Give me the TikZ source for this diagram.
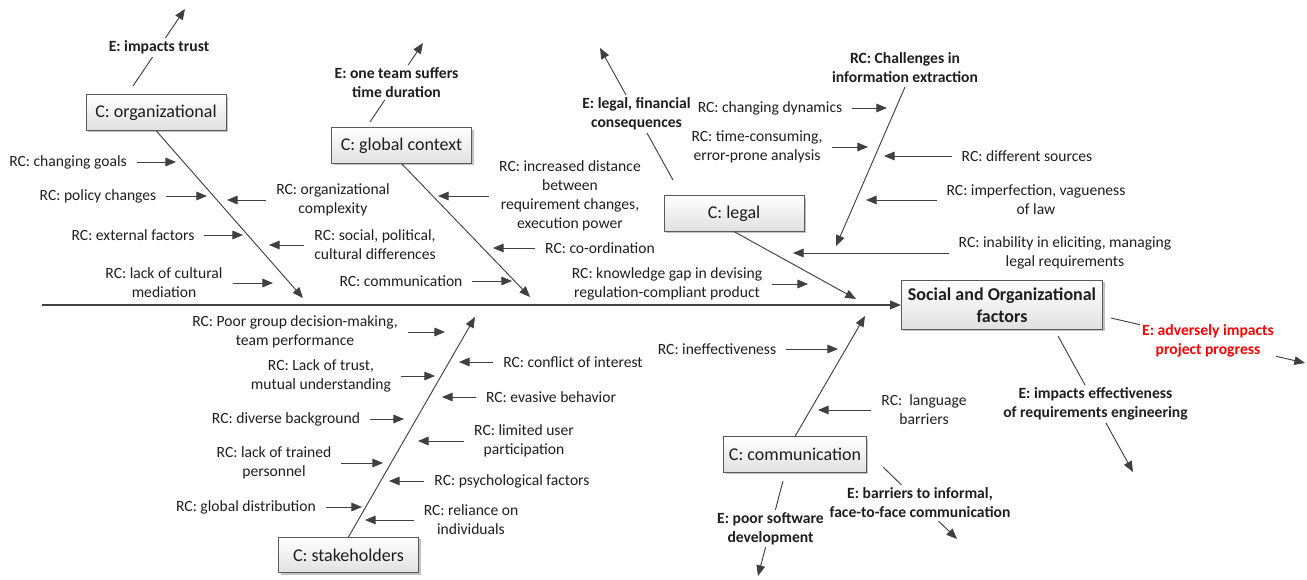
\documentclass[tikz,border=0pt]{standalone}
\usepackage{fontspec}
\setmainfont{Carlito}
\usetikzlibrary{arrows.meta,shadows}
\definecolor{ink}{HTML}{1E1E1E}
\definecolor{wire}{HTML}{404040}
\definecolor{boxline}{HTML}{5A5A5A}
\definecolor{alert}{HTML}{FF0000}

\tikzset{
  headed/.style={-{Triangle[length=8pt,width=6.5pt]}},
  rctext/.style={font=\fontsize{11.7}{14.2}\selectfont, text=ink, align=center,
    inner sep=0pt, outer xsep=7.5pt, outer ysep=3pt},
  etext/.style={font=\fontsize{11.7}{14.2}\selectfont\bfseries, text=ink, align=center,
    fill=white, inner sep=2pt},
  cause/.style={draw=boxline, line width=0.6pt, top color=white, bottom color=black!12,
    minimum width=105pt, minimum height=26.5pt, inner xsep=4pt,
    font=\fontsize{13.5}{16}\selectfont, text=ink,
    drop shadow={shadow xshift=1.5pt, shadow yshift=-1.5pt, fill=black!40, opacity=0.6}},
  mainbox/.style={draw=boxline, line width=0.6pt, top color=white, bottom color=black!12,
    minimum height=36.75pt, inner xsep=5pt, align=center,
    font=\fontsize{13.5}{16.5}\selectfont\bfseries, text=ink,
    drop shadow={shadow xshift=1.5pt, shadow yshift=-1.5pt, fill=black!40, opacity=0.6}},
  spine/.style={draw=wire, line width=1pt, headed},
  bone/.style={draw=wire, line width=0.7pt, headed},
  rc/.style={draw=wire, line width=0.7pt, headed},
  effect/.style={draw=wire, line width=0.7pt, headed},
}

\begin{document}
\begin{tikzpicture}[x=0.75pt, y=-0.75pt]
\useasboundingbox (0,0) rectangle (1307,580);

% ---------- effect box and main spine ----------
\node[mainbox] (soc) at (1002,305) {Social and Organizational\\factors};
\coordinate (spinetail) at (42,305);
\draw[spine] (spinetail) -- (soc);

% ---------- cause boxes ----------
\node[cause] (org)   at (156,112.5) {C: organizational};
\node[cause] (glob)  at (401.5,145.5) {C: global context};
\node[cause] (legal) at (734,213.5) {C: legal};
\node[cause] (stake) at (348.5,555) {C: stakeholders};
\node[cause] (comm)  at (795,454.5) {C: communication};

% ---------- bones onto the spine ----------
\coordinate (orgtip)   at (303,298);
\coordinate (globtip)  at (530,297);
\coordinate (legaltip) at (856,299);
\coordinate (staketip) at (475,317);
\coordinate (commtip)  at (865,316);
\draw[bone] (org.south) -- (orgtip);
\draw[bone] (glob.south) -- (globtip);
\draw[bone] (legal.south) -- (legaltip);
\draw[bone] (stake.north) -- (staketip);
\draw[bone] (comm.north) -- (commtip);

% ---------- effects ----------
\coordinate (e1a) at (133,86);   \coordinate (e1b) at (185,9);
\coordinate (e2a) at (370,122);  \coordinate (e2b) at (423,43);
\coordinate (e3a) at (673,180);  \coordinate (e3b) at (600,48);
\coordinate (e4a) at (1111,318); \coordinate (e4b) at (1305,363);
\coordinate (e5a) at (1058,336); \coordinate (e5b) at (1133,472);
\coordinate (e6a) at (883,467);  \coordinate (e6b) at (957,539);
\coordinate (e7a) at (783,481);  \coordinate (e7b) at (758,576);
\draw[effect] (e1a) -- node[etext] {E: impacts trust} (e1b);
\draw[effect] (e2a) -- node[etext] {E: one team suffers\\time duration} (e2b);
\draw[effect] (e3a) -- node[etext] {E: legal, financial\\consequences} (e3b);
\draw[effect] (e4a) -- node[etext, text=alert] {E: adversely impacts\\project progress} (e4b);
\draw[effect] (e5a) -- node[etext] {E: impacts effectiveness\\of requirements engineering} (e5b);
\draw[effect] (e6a) -- node[etext] {E: barriers to informal,\\face-to-face communication} (e6b);
\draw[effect] (e7a) -- node[etext] {E: poor software\\development} (e7b);

% ---------- organizational root causes ----------
\node[rctext] (r1) at (68,162) {RC: changing goals};
\node[rctext] (r2) at (98,196) {RC: policy changes};
\node[rctext] (r3) at (133,235) {RC: external factors};
\node[rctext] (r4) at (164,283) {RC: lack of cultural\\mediation};
\node[rctext] (r5) at (333,200) {RC: organizational\\complexity};
\node[rctext] (r6) at (375,245) {RC: social, political,\\cultural differences};
\coordinate (t1) at (176,162);
\coordinate (t2) at (207,196);
\coordinate (t3) at (243,235);
\coordinate (t4) at (273,283);
\coordinate (t5) at (227,200);
\coordinate (t6) at (269,245);
\foreach \i in {1,...,6} \draw[rc] (r\i) -- (t\i);

% ---------- global context root causes ----------
\node[rctext] (r7) at (401,281) {RC: communication};
\node[rctext] (r8) at (570,196) {RC: increased distance\\between\\requirement changes,\\execution power};
\node[rctext] (r9) at (600,248) {RC: co-ordination};
\coordinate (t7) at (512,281);
\coordinate (t8) at (438,196);
\coordinate (t9) at (493,248);
\foreach \i in {7,8,9} \draw[rc] (r\i) -- (t\i);

% ---------- legal root causes ----------
\node[rctext] (r10) at (667,284) {RC: knowledge gap in devising\\regulation-compliant product};
\node[rctext] (r11) at (1065,253) {RC: inability in eliciting, managing\\legal requirements};
\node[rctext] (r12) at (1036,200) {RC: imperfection, vagueness\\of law};
\node[rctext, font=\fontsize{11.7}{14.2}\selectfont\bfseries] (chal) at (905,68) {RC: Challenges in\\information extraction};
\coordinate (t10) at (808,284);
\coordinate (t11) at (793,253);
\coordinate (t12) at (866,200);
\coordinate (chaltip) at (836,246);
\foreach \i in {10,11,12} \draw[rc] (r\i) -- (t\i);
\draw[rc] (chal.south) -- (chaltip);

% sub-causes of information extraction
\node[rctext] (r13) at (770,108) {RC: changing dynamics};
\node[rctext] (r14) at (757,147) {RC: time-consuming,\\error-prone analysis};
\node[rctext] (r15) at (1027,156) {RC: different sources};
\coordinate (t13) at (887,108);
\coordinate (t14) at (868,147);
\coordinate (t15) at (884,156);
\foreach \i in {13,14,15} \draw[rc] (r\i) -- (t\i);

% ---------- stakeholder root causes ----------
\node[rctext] (r16) at (295,332) {RC: Poor group decision-making,\\team performance};
\node[rctext] (r17) at (321,376) {RC: Lack of trust,\\mutual understanding};
\node[rctext] (r18) at (286,419) {RC: diverse background};
\node[rctext] (r19) at (274,463) {RC: lack of trained\\personnel};
\node[rctext] (r20) at (246,507) {RC: global distribution};
\node[rctext] (r21) at (573,362) {RC: conflict of interest};
\node[rctext] (r22) at (551,397) {RC: evasive behavior};
\node[rctext] (r23) at (524,441) {RC: limited user\\participation};
\node[rctext] (r24) at (512,481) {RC: psychological factors};
\node[rctext] (r25) at (471,520) {RC: reliance on\\individuals};
\coordinate (t16) at (445,332);
\coordinate (t17) at (435,376);
\coordinate (t18) at (404,419);
\coordinate (t19) at (383,463);
\coordinate (t20) at (362,507);
\coordinate (t21) at (459,362);
\coordinate (t22) at (442,397);
\coordinate (t23) at (418,441);
\coordinate (t24) at (389,481);
\coordinate (t25) at (365,520);
\foreach \i in {16,...,25} \draw[rc] (r\i) -- (t\i);

% ---------- communication root causes ----------
\node[rctext] (r26) at (717,349) {RC: ineffectiveness};
\node[rctext] (r27) at (924,410) {RC:\ \ language\\barriers};
\coordinate (t26) at (838,349);
\coordinate (t27) at (818,410);
\foreach \i in {26,27} \draw[rc] (r\i) -- (t\i);

\end{tikzpicture}
\end{document}
